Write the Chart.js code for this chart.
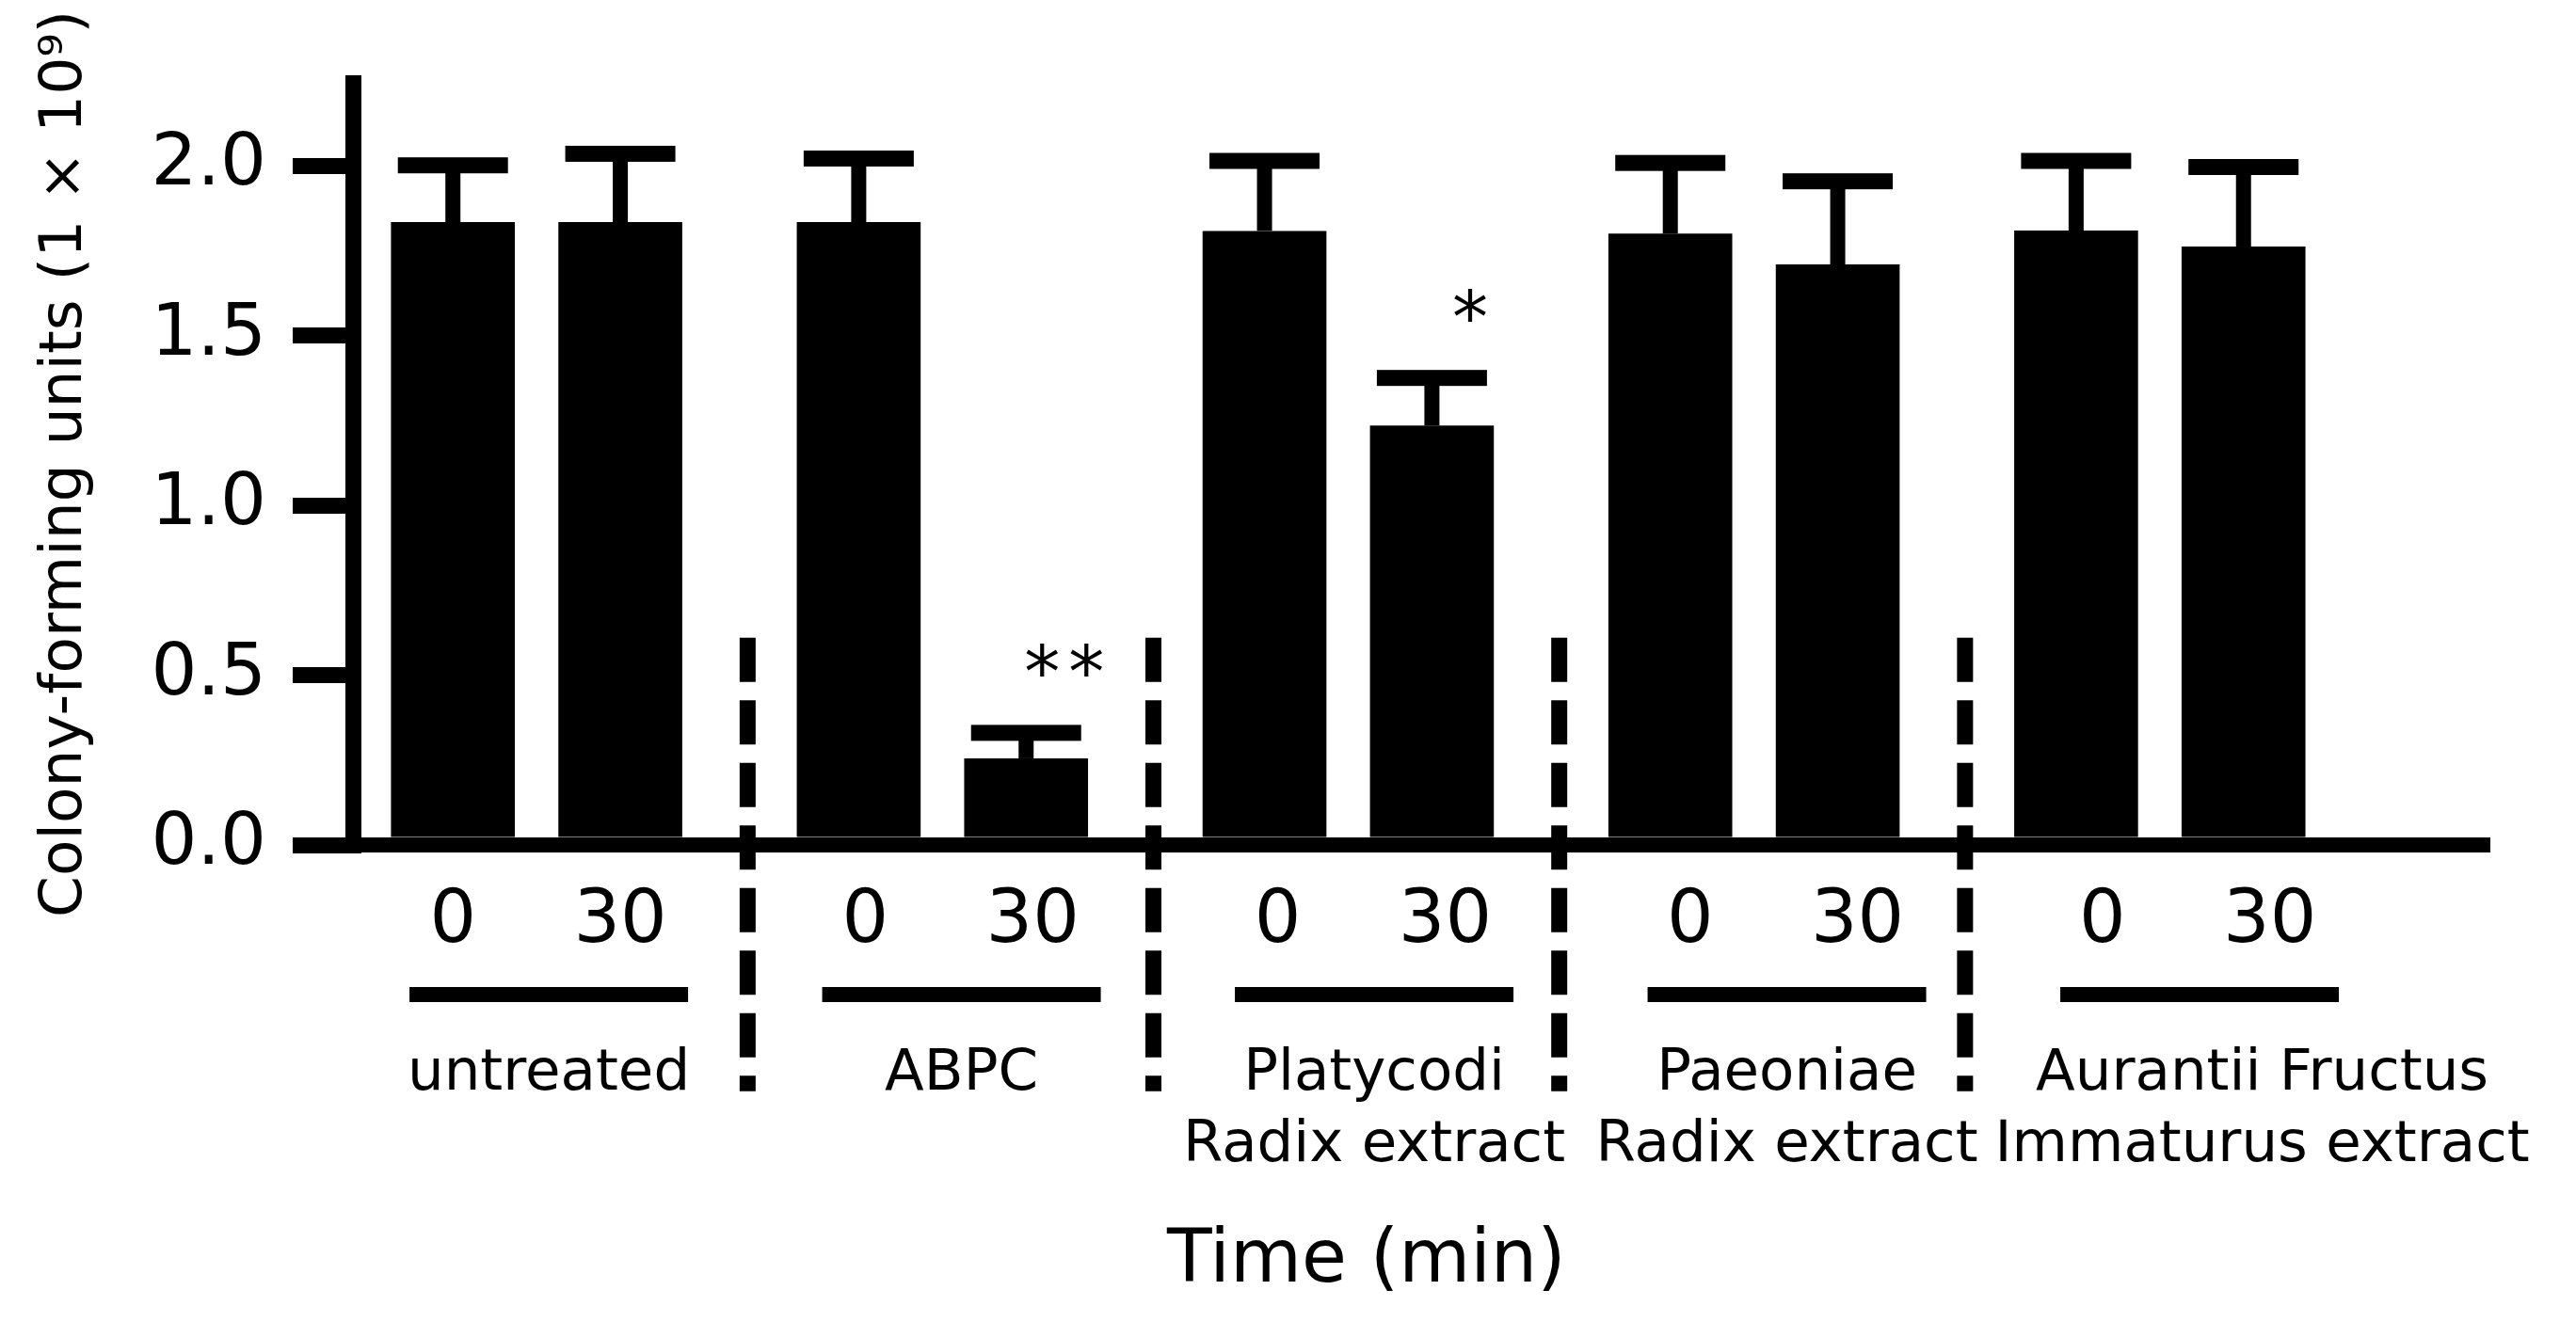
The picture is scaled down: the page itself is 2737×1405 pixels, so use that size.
<!DOCTYPE html>
<html><head><meta charset="utf-8">
<script src="https://cdn.jsdelivr.net/npm/chart.js@4"></script>
<style>html,body{margin:0;padding:0;background:#fff}#wrap{width:2737px;height:1405px;position:relative}</style>
</head><body><div id="wrap"><canvas id="c"></canvas></div>
<script>
const groupNames = [['untreated'], ['ABPC'], ['Platycodi', 'Radix extract'], ['Paeoniae', 'Radix extract'], ['Aurantii Fructus', 'Immaturus extract']];
const timeLabels = ['0', '30'];
const mean0 = [1.834, 1.834, 1.808, 1.800, 1.809];
const sd0 = [0.167, 0.187, 0.206, 0.208, 0.205];
const mean30 = [1.834, 0.255, 1.235, 1.709, 1.762];
const sd30 = [0.201, 0.075, 0.140, 0.245, 0.234];
const sig30 = ['', '**', '*', '', ''];
const yTicks = [0, 0.5, 1.0, 1.5, 2.0];
const yTickLabels = ['0.0', '0.5', '1.0', '1.5', '2.0'];
const yTitle = 'Colony-forming units (1 × 10⁹)';
const xTitle = 'Time (min)';

const FONT = "'DejaVu Sans', sans-serif";
const sds = [sd0, sd30];

const decor = {
  id: 'decor',
  afterDatasetsDraw(chart) {
    const ctx = chart.ctx, y = chart.scales.y;
    ctx.save();
    ctx.fillStyle = '#000';
    sds.forEach((sd, d) => {
      const meta = chart.getDatasetMeta(d);
      meta.data.forEach((bar, i) => {
        const v = chart.data.datasets[d].data[i].y;
        const top = y.getPixelForValue(v + sd[i]);
        ctx.fillRect(bar.x - 8, top, 16, bar.y - top);
        ctx.fillRect(bar.x - 58.5, top - 8.5, 117, 17);
      });
    });
    ctx.restore();
  },
  afterDraw(chart) {
    const ctx = chart.ctx, x = chart.scales.x, y = chart.scales.y;
    ctx.save();
    ctx.fillStyle = '#000';
    ctx.strokeStyle = '#000';
    // dashed separators
    ctx.lineWidth = 17;
    ctx.setLineDash([47, 19.5]);
    const sepTop = y.getPixelForValue(0.61);
    for (let g = 0; g < groupNames.length - 1; g++) {
      const px = x.getPixelForValue(g + 0.52);
      ctx.beginPath();
      ctx.moveTo(px, sepTop);
      ctx.lineTo(px, sepTop + 482);
      ctx.stroke();
    }
    ctx.setLineDash([]);
    // time labels
    ctx.textAlign = 'center';
    ctx.textBaseline = 'alphabetic';
    ctx.font = '78px ' + FONT;
    [0, 1].forEach(d => {
      chart.getDatasetMeta(d).data.forEach((bar, i) => {
        ctx.fillText(timeLabels[d], bar.x + 7 * i, 1001);
      });
    });
    // asterisks
    ctx.font = '76px ' + FONT;
    ctx.letterSpacing = '9px';
    chart.getDatasetMeta(1).data.forEach((bar, i) => {
      if (!sig30[i]) return;
      const cap = y.getPixelForValue(mean30[i] + sd30[i]);
      ctx.fillText(sig30[i], bar.x + 45, cap - 38);
    });
    ctx.letterSpacing = '0px';
    // underlines and group names
    ctx.font = '61px ' + FONT;
    let prevRight = -Infinity;
    groupNames.forEach((lines, g) => {
      const uc = x.getPixelForValue(1.017 * g + 0.03);
      ctx.fillRect(uc - 148, 1049, 296, 16);
      const w = Math.max(...lines.map(l => ctx.measureText(l).width));
      let cx = Math.max(uc, prevRight + 18 + w / 2);
      lines.forEach((l, k) => ctx.fillText(l, cx, 1158 + k * 76));
      prevRight = cx + w / 2;
    });
    // x title
    ctx.font = '78px ' + FONT;
    ctx.fillText(xTitle, x.getPixelForValue(2.045), 1362);
    ctx.restore();
  }
};

new Chart(document.getElementById('c'), {
  type: 'bar',
  data: {
    datasets: [
      { label: timeLabels[0] + ' min', data: mean0.map((v, i) => ({ x: i, y: v })), backgroundColor: '#000', borderWidth: 0, categoryPercentage: 0.825, barPercentage: 0.74 },
      { label: timeLabels[1] + ' min', data: mean30.map((v, i) => ({ x: i, y: v })), backgroundColor: '#000', borderWidth: 0, categoryPercentage: 0.825, barPercentage: 0.74 }
    ]
  },
  options: {
    responsive: true,
    maintainAspectRatio: false,
    animation: false,
    layout: { padding: { top: 88, right: 92, left: 0, bottom: 0 } },
    plugins: { legend: { display: false }, tooltip: { enabled: false } },
    scales: {
      x: {
        type: 'linear', min: -0.4526, max: 4.8122, offset: false,
        grid: { display: false, offset: false },
        ticks: { display: false },
        border: { display: true, color: '#000', width: 16 },
        afterBuildTicks: s => { s.ticks = groupNames.map((_, i) => ({ value: i })); },
        afterFit: s => { s.height = 507; }
      },
      y: {
        type: 'linear', min: 0, max: 2.244,
        grid: { display: true, drawOnChartArea: false, drawTicks: true, tickLength: 64, lineWidth: 17, color: '#000' },
        border: { display: true, color: '#000', width: 17 },
        ticks: { color: '#000', padding: 28, font: { family: FONT, size: 77 }, callback: v => yTickLabels[yTicks.indexOf(v)] },
        afterBuildTicks: s => { s.ticks = yTicks.map(v => ({ value: v })); },
        title: { display: true, text: yTitle, color: '#000', font: { family: FONT, size: 63 }, padding: { top: 32, bottom: 0 } },
        afterFit: s => { s.width = 375; }
      }
    }
  },
  plugins: [decor]
});
</script>
</body></html>
